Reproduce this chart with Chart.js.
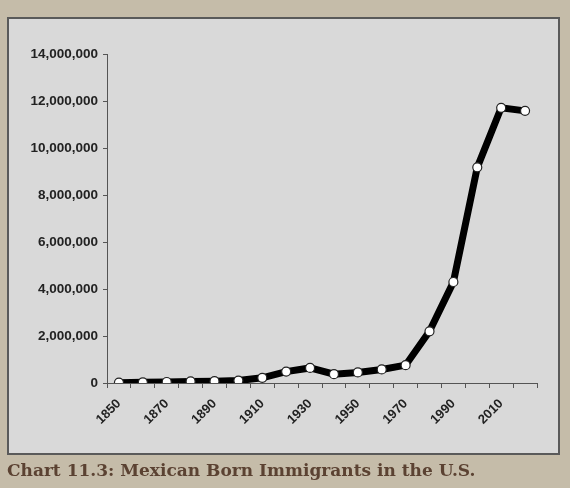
<!DOCTYPE html>
<html>
<head>
<meta charset="utf-8">
<script src="https://cdn.jsdelivr.net/npm/chart.js@4.4.1/dist/chart.umd.min.js"></script>
<style>
  html, body { margin: 0; padding: 0; }
  body { width: 570px; height: 488px; background: #c5bca9; position: relative; overflow: hidden; }
  #panel { position: absolute; left: 7px; top: 17px; width: 549px; height: 434px; background: #d9d9d9; border: 2px solid #5a5a5a; box-sizing: content-box; }
  #wrap { position: absolute; left: 0; top: 0; width: 570px; height: 488px; }
  #title { position: absolute; left: 7px; top: 458px; font-family: "DejaVu Serif", serif; font-weight: bold; font-size: 17px; line-height: 24px; color: #5b4232; white-space: nowrap; }
</style>
</head>
<body>
<div id="panel"></div>
<div id="wrap"><canvas id="c" width="570" height="488"></canvas></div>
<div id="title">Chart 11.3: Mexican Born Immigrants in the U.S.</div>
<script>
const years = ["1850","1860","1870","1880","1890","1900","1910","1920","1930","1940","1950","1960","1970","1980","1990","2000","2010","2020"];
const immigrants = [13317, 27466, 42435, 68399, 77853, 103393, 221915, 486418, 641462, 377433, 450562, 575902, 759711, 2199221, 4298014, 9177487, 11711103, 11580000];
const yTicks = [0, 2000000, 4000000, 6000000, 8000000, 10000000, 12000000, 14000000];

new Chart(document.getElementById('c'), {
  type: 'line',
  data: {
    labels: years,
    datasets: [{
      data: immigrants,
      borderColor: '#000',
      borderWidth: 7,
      tension: 0,
      pointRadius: 4.5,
      pointBackgroundColor: '#fff',
      pointBorderColor: '#222',
      pointBorderWidth: 1.2
    }]
  },
  options: {
    responsive: false,
    animation: false,
    devicePixelRatio: 1,
    layout: { padding: { left: 0, right: 33, top: 54, bottom: 0 } },
    plugins: { legend: { display: false }, tooltip: { enabled: false } },
    scales: {
      x: {
        offset: true,
        afterFit: s => { s.height = 105; },
        grid: { offset: true, drawOnChartArea: false, drawTicks: true, tickLength: 5, color: '#555' },
        border: { display: true, color: '#555', width: 1 },
        ticks: {
          autoSkip: false, maxRotation: 45, minRotation: 45, padding: 8,
          color: '#222', font: { family: 'Liberation Sans', weight: 'bold', size: 13 },
          callback: function(v, i) { return i % 2 === 0 ? years[i] : ''; }
        }
      },
      y: {
        min: 0, max: 14000000,
        afterFit: s => { s.width = 107; },
        afterBuildTicks: s => { s.ticks = yTicks.map(v => ({ value: v })); },
        grid: { drawOnChartArea: false, drawTicks: true, tickLength: 4, color: '#555' },
        border: { display: true, color: '#555', width: 1 },
        ticks: {
          padding: 5, color: '#222', font: { family: 'Liberation Sans', weight: 'bold', size: 13.5 },
          callback: v => v.toLocaleString('en-US')
        }
      }
    }
  }
});
</script>
</body>
</html>
